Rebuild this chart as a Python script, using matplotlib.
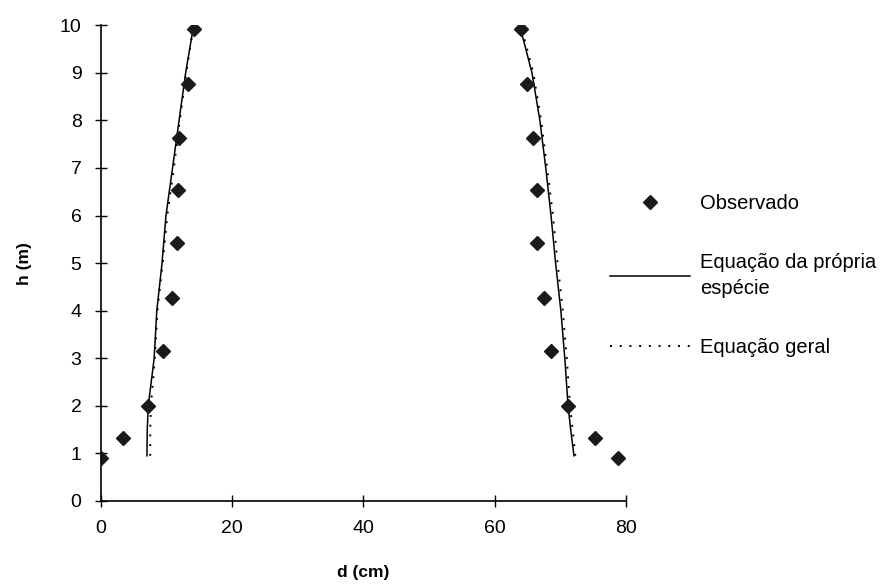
import matplotlib.pyplot as plt
from matplotlib.lines import Line2D

plt.rcParams['font.family'] = ['Liberation Sans', 'DejaVu Sans']

# observed stem profile (both sides of the trunk)
h_obs = [0.9, 1.32, 2.0, 3.15, 4.27, 5.43, 6.53, 7.64, 8.77, 9.92]
d_left = [0.0, 3.35, 7.2, 9.5, 10.8, 11.6, 11.7, 11.9, 13.2, 14.1]
d_right = [78.8, 75.3, 71.2, 68.6, 67.5, 66.4, 66.4, 65.8, 64.9, 64.0]

# fitted profiles
h_fit = [0.95, 1.5, 2.0, 3.0, 4.0, 5.0, 6.0, 7.0, 8.0, 9.0, 9.9]
own_left = [7.0, 7.05, 7.2, 8.1, 8.5, 9.3, 9.9, 10.9, 11.9, 12.9, 14.0]
own_right = [72.1, 71.6, 71.2, 70.7, 70.1, 69.3, 68.6, 67.8, 66.9, 65.7, 64.0]
gen_left = [7.5, 7.5, 7.6, 8.2, 8.6, 9.4, 10.1, 11.1, 12.0, 13.0, 14.0]
gen_right = [72.3, 71.9, 71.5, 71.0, 70.4, 69.6, 68.9, 68.0, 67.1, 65.9, 64.2]

fig = plt.figure(figsize=(8.94, 5.88), dpi=100)
ax = fig.add_axes([0.113, 0.148, 0.587, 0.809])

for d in (own_left, own_right):
    ax.plot(d, h_fit, color='black', lw=1.1)
for d in (gen_left, gen_right):
    ax.plot(d, h_fit, color='black', lw=1.4, linestyle=(0, (1, 4)))
for d in (d_left, d_right):
    ax.plot(d, h_obs, 'D', color='#1a1a1a', ms=7, linestyle='none')

ax.set_xlim(0, 80)
ax.set_ylim(0, 10)
ax.set_xticks([0, 20, 40, 60, 80])
ax.set_yticks(range(11))
ax.spines['top'].set_visible(False)
ax.spines['right'].set_visible(False)
ax.spines['left'].set_linewidth(1.2)
ax.spines['bottom'].set_linewidth(1.2)
ax.tick_params(direction='inout', length=8, width=1, labelsize=14, pad=10)
ax.set_xlabel('d (cm)', fontsize=12.5, fontweight='bold', labelpad=20)
ax.set_ylabel('h (m)', fontsize=12.5, fontweight='bold', labelpad=20)
for s in ax.spines.values():
    s.set_clip_on(False)

handles = [
    Line2D([], [], marker='D', color='#1a1a1a', ms=7, linestyle='none'),
    Line2D([], [], color='black', lw=1.1),
    Line2D([], [], color='black', lw=1.4, linestyle=(0, (1, 4))),
]
labels = ['Observado', 'Equação da própria\nespécie', 'Equação geral']
leg = ax.legend(handles, labels, loc='upper left', bbox_to_anchor=(0.954, 0.662),
                frameon=False, fontsize=14.5, handlelength=4.0, handletextpad=0.5,
                labelspacing=2.0, borderaxespad=0)
leg.get_texts()[1].set_linespacing(1.45)

fig.savefig('out.png', dpi=100)
